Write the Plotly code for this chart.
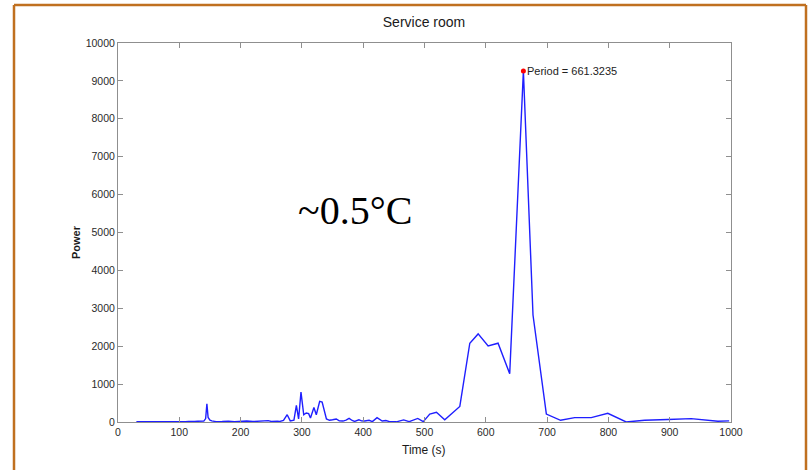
import plotly.graph_objects as go

# ---- data ----
time_s = [30, 40, 50, 60, 70, 75, 80, 90, 100, 110, 115, 120, 125, 130, 135, 140,
          143, 145, 147, 150, 153, 156, 160, 170, 180, 190, 200, 210, 220, 230, 240,
          245, 250, 255, 260, 264, 270, 276, 281, 287, 291, 294.6, 298.5, 303, 307,
          311, 314, 319.6, 323.5, 329, 333, 340, 345, 350, 356, 361, 367, 372, 377,
          382, 386, 393, 397, 402.5, 409.6, 415, 422.6, 431, 437, 443, 454, 466, 475,
          489, 498, 508.6, 519.5, 533, 557.6, 573.9, 587.5, 603.8, 620, 639,
          661.3235, 677, 698.8, 722, 745, 772, 799, 829, 859, 897, 935, 978.7, 997]
power = [5, 3, 4, 6, 5, 12, 4, 6, 5, 8, 15, 10, 12, 20, 18, 25,
         90, 480, 120, 50, 30, 15, 10, 12, 20, 8, 15, 25, 12, 18, 20,
         35, 15, 25, 18, 16, 40, 192, 30, 50, 437, 80, 789, 190, 237,
         220, 105, 385, 192, 543, 525, 80, 45, 60, 80, 30, 25, 50, 95,
         40, 15, 60, 30, 25, 45, 10, 115, 25, 40, 10, 5, 55, 10,
         95, 10, 210, 255, 60, 411, 2079, 2324, 2008, 2079, 1271,
         9260, 2824, 210, 45, 115, 115, 230, 0, 45, 65, 90, 20, 30]

peak_time = [661.3235]
peak_power = [9260]
peak_label = "Period = 661.3235"

x_ticks = [0, 100, 200, 300, 400, 500, 600, 700, 800, 900, 1000]
y_ticks = [0, 1000, 2000, 3000, 4000, 5000, 6000, 7000, 8000, 9000, 10000]

title_text = "Service room"
x_label = "Time (s)"
y_label = "Power"
note_text = "~0.5°C"

# ---- figure ----
W, H = 809, 470
ML, MR, MT, MB = 118, 78, 43, 48
PW, PH = W - ML - MR, H - MT - MB

def px_x(p):
    return (p - ML) / PW

def px_y(p):
    return (H - MB - p) / PH

fig = go.Figure()
fig.add_trace(go.Scatter(x=time_s, y=power, mode="lines",
                         line=dict(color="#1f1fff", width=1.4),
                         showlegend=False, hoverinfo="skip"))
fig.add_trace(go.Scatter(x=peak_time, y=peak_power, mode="markers",
                         marker=dict(color="#ff0000", size=5),
                         showlegend=False, hoverinfo="skip"))

axis_common = dict(showgrid=False, zeroline=False, showline=True,
                   linecolor="#8f8f8f", linewidth=1, mirror="ticks",
                   ticks="inside", ticklen=5, tickcolor="#8f8f8f",
                   tickfont=dict(family="Liberation Sans, Arial", size=10.5, color="#2a2a2a"))

fig.update_layout(
    width=W, height=H,
    margin=dict(l=ML, r=MR, t=MT, b=MB),
    paper_bgcolor="white", plot_bgcolor="white",
    xaxis=dict(range=[0, 1000], tickvals=x_ticks, ticktext=[str(v) for v in x_ticks], **axis_common),
    yaxis=dict(range=[0, 10000], tickvals=y_ticks, ticktext=[str(v) for v in y_ticks], **axis_common),
    title=dict(text=title_text, x=px_x(424), xref="paper", xanchor="center",
               y=1 - 22 / H, yref="container", yanchor="middle",
               font=dict(family="Liberation Sans, Arial", size=14, color="#1a1a1a")),
    annotations=[
        dict(x=peak_time[0], y=peak_power[0], xref="x", yref="y", text=peak_label,
             showarrow=False, xanchor="left", yanchor="middle", xshift=2,
             font=dict(family="Liberation Sans, Arial", size=11, color="#222222")),
        dict(x=px_x(424), y=px_y(450), xref="paper", yref="paper", text=x_label,
             showarrow=False, xanchor="center", yanchor="middle",
             font=dict(family="Liberation Sans, Arial", size=12, color="#1a1a1a")),
        dict(x=px_x(76), y=px_y(242), xref="paper", yref="paper", text="<b>" + y_label + "</b>",
             showarrow=False, xanchor="center", yanchor="middle", textangle=-90,
             font=dict(family="Liberation Sans, Arial", size=11, color="#1a1a1a")),
        dict(x=px_x(355), y=px_y(210), xref="paper", yref="paper", text=note_text,
             showarrow=False, xanchor="center", yanchor="middle",
             font=dict(family="Liberation Serif, DejaVu Serif, serif", size=40, color="#000000")),
    ],
    shapes=[
        dict(type="line", xref="paper", yref="paper", x0=px_x(14), x1=px_x(14), y0=px_y(5), y1=px_y(480),
             line=dict(color="#c07020", width=2.5)),
        dict(type="line", xref="paper", yref="paper", x0=px_x(14), x1=px_x(806), y0=px_y(5), y1=px_y(5),
             line=dict(color="#c07020", width=2.5)),
        dict(type="line", xref="paper", yref="paper", x0=px_x(806), x1=px_x(806), y0=px_y(5), y1=px_y(480),
             line=dict(color="#c07020", width=2.5)),
    ],
)

fig.write_html("out.html")
